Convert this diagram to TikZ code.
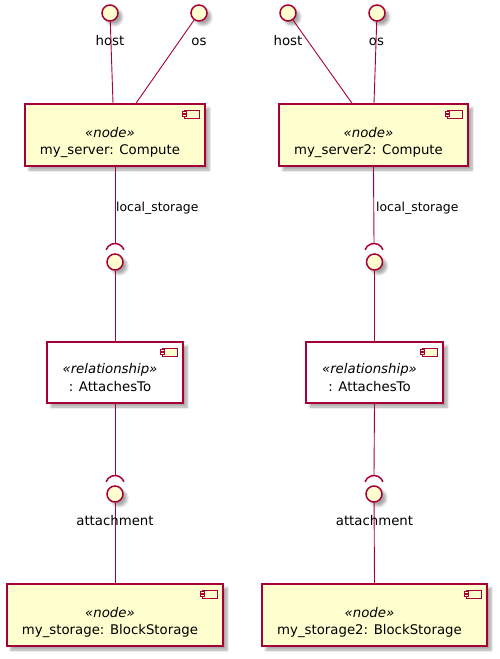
\documentclass[tikz,border=0pt]{standalone}
\usepackage{fontspec}
\setmainfont{DejaVu Sans}
\usetikzlibrary{shadows.blur,calc}
\definecolor{umlred}{HTML}{A80036}
\definecolor{umlfill}{HTML}{FEFECE}

\tikzset{
  shadowed/.style={blur shadow={shadow xshift=4pt, shadow yshift=-4pt,
      shadow blur radius=2.5pt, shadow blur steps=6, shadow opacity=35}},
  compbox/.style={draw=umlred, line width=1.5pt, fill=umlfill, rectangle,
      inner sep=0pt, shadowed},
  relbox/.style={compbox, fill=white},
  iface/.style={circle, draw=umlred, line width=1.5pt, fill=umlfill,
      minimum size=16pt, inner sep=0pt, shadowed},
  conn/.style={draw=umlred, line width=0.9pt},
  socket/.style={draw=umlred, line width=1.5pt},
  txt/.style={font=\fontsize{13.3}{16}\selectfont, anchor=base, inner sep=0pt},
  stereo/.style={font=\fontsize{13.3}{16}\selectfont\itshape, anchor=base, inner sep=0pt},
  elabel/.style={font=\fontsize{12.4}{15}\selectfont, anchor=base west, inner sep=0pt},
  icon/.style={draw=umlred, line width=1pt, fill=umlfill},
}

% small component glyph in the upper right corner of a box
\newcommand\compicon[1]{%
  \draw[icon] ($(#1.north east)+(-21,7)$) rectangle +(15,8);
  \draw[icon] ($(#1.north east)+(-23,8.7)$) rectangle +(4,2);
  \draw[icon] ($(#1.north east)+(-23,11.7)$) rectangle +(4,2);
}

% required-interface socket: arc above an interface circle
\newcommand\socketarc[1]{%
  \draw[socket] ([shift={(20:9.5pt)}]#1) arc[start angle=20, end angle=160, radius=9.5pt];
}

\begin{document}
\begin{tikzpicture}[x=1pt, y=-1pt]
\useasboundingbox (0,0) rectangle (499,659);

% ---- top interfaces
\node[iface] (host1) at (110,13) {};
\node[iface] (os1) at (199,13) {};
\node[iface] (host2) at (288,13) {};
\node[iface] (os2) at (377,13) {};
\node[txt] (host1l) at (110,45) {host};
\node[txt] (os1l) at (199,45) {os};
\node[txt] (host2l) at (288,45) {host};
\node[txt] (os2l) at (376.5,45) {os};

% ---- compute nodes
\node[compbox, minimum width=180, minimum height=62] (srv1) at (115,135) {};
\node[compbox, minimum width=189, minimum height=62] (srv2) at (373.5,135) {};
\compicon{srv1}
\compicon{srv2}
\node[stereo] (srv1s) at (110,137) {«node»};
\node[txt] (srv1n) at (110,154) {my\_server: Compute};
\node[stereo] (srv2s) at (368.5,137) {«node»};
\node[txt] (srv2n) at (368.5,154) {my\_server2: Compute};

% ---- local_storage interfaces
\coordinate (ls1c) at (115,253);
\coordinate (ls1top) at (115,243.5);
\coordinate (ls2c) at (374,253);
\coordinate (ls2top) at (374,243.5);
\socketarc{ls1c}
\socketarc{ls2c}
\node[iface] (ls1) at (115,262) {};
\node[iface] (ls2) at (374.5,262) {};
\node[elabel] (ls1l) at (116,211) {local\_storage};
\node[elabel] (ls2l) at (376,211) {local\_storage};

% ---- relationship boxes
\node[relbox, minimum width=136, minimum height=61] (rel1) at (115,372.5) {};
\node[relbox, minimum width=137, minimum height=61] (rel2) at (374.5,372.5) {};
\compicon{rel1}
\compicon{rel2}
\node[stereo] (rel1s) at (110,373.5) {«relationship»};
\node[txt] (rel1n) at (110,391) {: AttachesTo};
\node[stereo] (rel2s) at (369.5,373.5) {«relationship»};
\node[txt] (rel2n) at (369.5,391) {: AttachesTo};

% ---- attachment interfaces
\coordinate (at1c) at (115,485);
\coordinate (at1top) at (115,475.5);
\coordinate (at2c) at (374,485);
\coordinate (at2top) at (374,475.5);
\socketarc{at1c}
\socketarc{at2c}
\node[iface] (at1) at (115,494) {};
\node[iface] (at2) at (374,494) {};

% ---- block storage nodes
\node[compbox, minimum width=216, minimum height=62] (sto1) at (115,615) {};
\node[compbox, minimum width=225, minimum height=62] (sto2) at (374.5,615) {};
\compicon{sto1}
\compicon{sto2}
\node[stereo] (sto1s) at (110,617) {«node»};
\node[txt] (sto1n) at (110,634) {my\_storage: BlockStorage};
\node[stereo] (sto2s) at (369.5,617) {«node»};
\node[txt] (sto2n) at (369.5,634) {my\_storage2: BlockStorage};

% ---- connectors
\draw[conn] (host1) -- ([xshift=-2pt]srv1.north);
\draw[conn] (os1) -- ([xshift=21pt]srv1.north);
\draw[conn] (host2) -- ([xshift=-21.5pt]srv2.north);
\draw[conn] (os2) -- ([xshift=0.5pt]srv2.north);

\draw[conn] (srv1.south) -- (ls1top);
\draw[conn] (srv2.south) -- (ls2top);
\draw[conn] (ls1) -- (rel1.north);
\draw[conn] (ls2) -- (rel2.north);

\draw[conn] (rel1.south) -- (at1top);
\draw[conn] (rel2.south) -- (at2top);
\draw[conn] (at1) -- (sto1.north);
\draw[conn] (at2) -- (sto2.north);

\node[txt] (at1l) at (115,525) {attachment};
\node[txt] (at2l) at (374.5,525) {attachment};
\end{tikzpicture}
\end{document}
